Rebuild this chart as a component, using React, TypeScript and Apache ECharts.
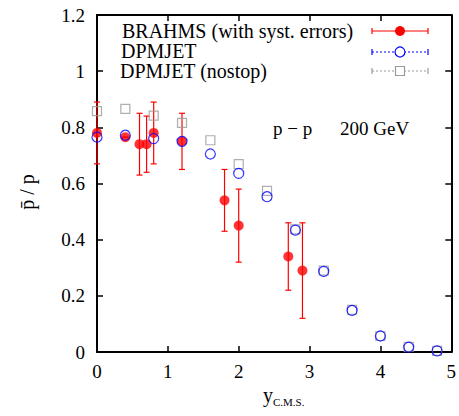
import React, { useEffect, useRef } from "react";
import * as echarts from "echarts";

const brahmsX = [0, 0.4, 0.6, 0.7, 0.8, 1.2, 1.8, 2.0, 2.7, 2.9];
const brahmsY = [0.78, 0.765, 0.74, 0.74, 0.78, 0.75, 0.54, 0.45, 0.34, 0.29];
const brahmsLo = [0.67, 0.765, 0.63, 0.64, 0.67, 0.65, 0.43, 0.32, 0.22, 0.12];
const brahmsHi = [0.89, 0.765, 0.85, 0.84, 0.89, 0.85, 0.65, 0.58, 0.46, 0.46];

const dpmX = [0, 0.4, 0.8, 1.2, 1.6, 2.0, 2.4, 2.8, 3.2, 3.6, 4.0, 4.4, 4.8];
const dpmY = [0.765, 0.772, 0.76, 0.75, 0.705, 0.636, 0.553, 0.434, 0.287, 0.148, 0.057, 0.017, 0.004];
const nostopY = [0.858, 0.866, 0.842, 0.816, 0.754, 0.669, 0.574, 0.437, 0.29, 0.15, 0.057, 0.018, 0.004];

const xTicks = { min: 0, max: 5, interval: 1 };
const yTicks = { min: 0, max: 1.2, interval: 0.2 };

const legendLabels = ["BRAHMS (with syst. errors)", "DPMJET", "DPMJET (nostop)"];

const FONT = "Liberation Serif";
const RED = "#ff0000";
const BLUE = "#0000ff";
const GRAY = "#9a9a9a";

export default function App() {
  const ref = useRef<HTMLDivElement>(null);
  useEffect(() => {
    if (!ref.current) return;
    const chart = echarts.init(ref.current, null, { renderer: "svg" });
    const axisLine = { show: true, onZero: false, lineStyle: { color: "#000", width: 2 } };
    const tick = { show: true, inside: true, length: 6, lineStyle: { color: "#000", width: 1.5 } };
    const txt = (x: number, y: number, text: string, size: number, extra: any = {}) => ({
      type: "text", x, y, ...extra,
      style: { text, fontFamily: FONT, fontSize: size, fill: "#000", verticalAlign: "middle", align: extra.align || "left" },
    });
    const legendLine = (y: number, color: string, dashed: boolean) => [
      { type: "line", shape: { x1: 372, y1: y, x2: 428, y2: y }, style: { stroke: color, lineWidth: 1.2, lineDash: dashed ? [2, 2] : null } },
      { type: "line", shape: { x1: 372, y1: y - 3, x2: 372, y2: y + 3 }, style: { stroke: color, lineWidth: 1.2 } },
      { type: "line", shape: { x1: 428, y1: y - 3, x2: 428, y2: y + 3 }, style: { stroke: color, lineWidth: 1.2 } },
    ];
    const option: any = {
      animation: false,
      textStyle: { fontFamily: FONT },
      grid: { left: 97, right: 6, top: 15, bottom: 64, containLabel: false },
      xAxis: [
        {
          type: "value", ...xTicks, position: "bottom",
          axisLine, axisTick: tick, splitLine: { show: false },
          axisLabel: { color: "#000", fontFamily: FONT, fontSize: 19, margin: 10 },
        },
        {
          type: "value", ...xTicks, position: "top",
          axisLine, axisTick: tick, splitLine: { show: false }, axisLabel: { show: false },
        },
      ],
      yAxis: [
        {
          type: "value", ...yTicks, position: "left",
          axisLine, axisTick: tick, splitLine: { show: false },
          axisLabel: { color: "#000", fontFamily: FONT, fontSize: 19, margin: 12 },
        },
        {
          type: "value", ...yTicks, position: "right",
          axisLine, axisTick: tick, splitLine: { show: false }, axisLabel: { show: false },
        },
      ],
      series: [
        {
          type: "custom",
          clip: false,
          z: 2,
          data: brahmsX.map((x, i) => [x, brahmsY[i], brahmsLo[i], brahmsHi[i]]),
          encode: { x: 0, y: 1 },
          renderItem: (params: any, api: any) => {
            const x = api.value(0);
            const top = api.coord([x, api.value(3)]);
            const bot = api.coord([x, api.value(2)]);
            const w = 3;
            const style = { stroke: RED, lineWidth: 1.2 };
            return {
              type: "group",
              children: [
                { type: "line", shape: { x1: top[0], y1: top[1], x2: bot[0], y2: bot[1] }, style },
                { type: "line", shape: { x1: top[0] - w, y1: top[1], x2: top[0] + w, y2: top[1] }, style },
                { type: "line", shape: { x1: bot[0] - w, y1: bot[1], x2: bot[0] + w, y2: bot[1] }, style },
              ],
            };
          },
        },
        {
          type: "scatter", name: legendLabels[0], z: 3, clip: false,
          data: brahmsX.map((x, i) => [x, brahmsY[i]]),
          symbol: "circle", symbolSize: 10,
          itemStyle: { color: RED },
        },
        {
          type: "scatter", name: legendLabels[2], z: 4, clip: false,
          data: dpmX.map((x, i) => [x, nostopY[i]]),
          symbol: "rect", symbolSize: 9,
          itemStyle: { color: "rgba(0,0,0,0)", borderColor: GRAY, borderWidth: 1.2 },
        },
        {
          type: "scatter", name: legendLabels[1], z: 5, clip: false,
          data: dpmX.map((x, i) => [x, dpmY[i]]),
          symbol: "circle", symbolSize: 10,
          itemStyle: { color: "rgba(0,0,0,0)", borderColor: BLUE, borderWidth: 1.2 },
        },
      ],
      graphic: [
        txt(122, 31, legendLabels[0], 20),
        txt(121, 51, legendLabels[1], 20),
        txt(120, 71, legendLabels[2], 20),
        ...legendLine(31, RED, false),
        { type: "circle", shape: { cx: 400, cy: 31, r: 5 }, style: { fill: RED } },
        ...legendLine(52, BLUE, true),
        { type: "circle", shape: { cx: 400, cy: 52, r: 5 }, style: { fill: "#fff", stroke: BLUE, lineWidth: 1.2 } },
        ...legendLine(71, GRAY, true),
        { type: "rect", shape: { x: 395.5, y: 66.5, width: 9, height: 9 }, style: { fill: "#fff", stroke: GRAY, lineWidth: 1.2 } },
        txt(273, 128, "p \u2212 p", 19),
        txt(340, 128, "200 GeV", 19),
        txt(27, 192, "p\u0304 / p", 20, { rotation: Math.PI / 2, align: "center" }),
        txt(263, 395, "y", 20),
        txt(273, 402, "C.M.S.", 11),
      ],
    };
    chart.setOption(option);
    return () => chart.dispose();
  }, []);
  return <div ref={ref} style={{ position: "fixed", left: 0, top: 0, width: 459, height: 416, background: "#fff" }} />;
}
